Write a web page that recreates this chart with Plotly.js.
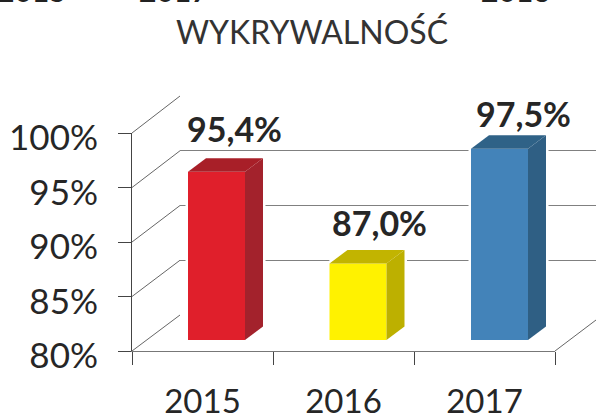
<!DOCTYPE html>
<html>
<head>
<meta charset="utf-8">
<script src="https://cdn.plot.ly/plotly-3.0.1.min.js"></script>
<style>html,body{margin:0;padding:0;background:#fff;overflow:hidden}</style>
</head>
<body>
<div id="chart" style="width:596px;height:416px"></div>
<script>
var categories = ['2015', '2016', '2017'];
var values = [95.4, 87.0, 97.5];
var frontColors = ['#e01f2b', '#fff200', '#4383b9'];
var sideColors = ['#a3222c', '#bdb000', '#2f5f84'];
var topColors = ['#a81f28', '#c2b400', '#2f6287'];
var yTicks = [80, 85, 90, 95, 100];
var yTickText = ['80%', '85%', '90%', '95%', '100%'];
var clippedHeader = ['2015', '2017', '2016'];
var clippedHeaderX = [32, 174, 516];
var labelDx = [0.13, 0.15, 0.17];
var labelShift = [43, 41, 35];

var W = 596, H = 416, FONT = 'Lato, Carlito, sans-serif';
function px(x) { return x / W; }
function py(y) { return 1 - y / H; }
function dom(a, b) { return [Math.max(0, px(a)), Math.min(1, px(b))]; }
function vdom(bottom, top) { return [py(bottom), py(top)]; }

var barW = 57 / 141.5, dx = 18 / 141.5, dy = 13.5 / 10.925;
var traces = [];

// wall subplot and front-axis subplot carriers
traces.push({ type: 'scatter', xaxis: 'x', yaxis: 'y', x: [0], y: [80], mode: 'markers', marker: { opacity: 0 }, showlegend: false, hoverinfo: 'skip' });
traces.push({ type: 'scatter', xaxis: 'x2', yaxis: 'y2', x: [0], y: [80], mode: 'markers', marker: { opacity: 0 }, showlegend: false, hoverinfo: 'skip' });

// white halo around each bar, in its own lower subplot
categories.forEach(function (c, i) {
  var l = i - barW / 2, r = i + barW / 2, v = values[i];
  traces.push({ type: 'scatter', xaxis: 'x3', yaxis: 'y3', mode: 'lines', fill: 'toself', fillcolor: '#fff',
    line: { color: '#fff', width: 5 }, hoverinfo: 'skip', showlegend: false,
    x: [l, l, l + dx, r + dx, r + dx, r, l], y: [80, v, v + dy, v + dy, 80 + dy, 80, 80] });
});
// front faces
traces.push({ type: 'bar', xaxis: 'x4', yaxis: 'y4', x: [0, 1, 2], y: values, width: barW,
  marker: { color: frontColors, line: { width: 0 } }, showlegend: false, hoverinfo: 'skip' });
// side and top faces
categories.forEach(function (c, i) {
  var l = i - barW / 2, r = i + barW / 2, v = values[i];
  traces.push({ type: 'scatter', xaxis: 'x4', yaxis: 'y4', mode: 'lines', fill: 'toself', fillcolor: sideColors[i],
    line: { width: 0 }, hoverinfo: 'skip', showlegend: false,
    x: [r, r + dx, r + dx, r, r], y: [80, 80 + dy, v + dy, v, 80] });
  traces.push({ type: 'scatter', xaxis: 'x4', yaxis: 'y4', mode: 'lines', fill: 'toself', fillcolor: topColors[i],
    line: { width: 0 }, hoverinfo: 'skip', showlegend: false,
    x: [l, l + dx, r + dx, r, l], y: [v, v + dy, v + dy, v, v] });
});

var frontY = function (v) { return 351 - (v - 80) * 10.9; };
var backY = function (v) { return 315 - (v - 80) * 10.95; };
var shapes = yTicks.map(function (v) {
  return { type: 'line', xref: 'paper', yref: 'paper', layer: 'below',
    x0: px(132), y0: py(frontY(v)), x1: px(180), y1: py(backY(v)),
    line: { color: '#666', width: 1 } };
});
shapes.push({ type: 'line', xref: 'paper', yref: 'paper', layer: 'below',
  x0: px(555), y0: py(351), x1: px(596), y1: py(320), line: { color: '#666', width: 1 } });

var annotations = values.map(function (v, i) {
  return { xref: 'x4', yref: 'y4', x: i + labelDx[i], y: v, yshift: labelShift[i], yanchor: 'middle', xanchor: 'center',
    showarrow: false, text: '<b>' + v.toFixed(1).replace('.', ',') + '%</b>',
    font: { family: FONT, size: 34, color: '#262626' } };
});
clippedHeader.forEach(function (t, i) {
  annotations.push({ xref: 'paper', yref: 'paper', x: px(clippedHeaderX[i]), y: py(10), yanchor: 'bottom', xanchor: 'center',
    showarrow: false, text: '<b>' + t + '</b>', font: { family: FONT, size: 30, color: '#222' } });
});

var layout = {
  width: W, height: H, margin: { l: 0, r: 0, t: 0, b: 0 }, paper_bgcolor: '#fff', plot_bgcolor: 'rgba(0,0,0,0)',
  showlegend: false, shapes: shapes, annotations: annotations,
  title: { text: 'WYKRYWALNOŚĆ', xref: 'paper', yref: 'paper', x: px(312), y: py(33), xanchor: 'center', yanchor: 'middle',
    font: { family: FONT, size: 32, color: '#333' } },
  xaxis: { domain: dom(180, 596), range: [0, 1], anchor: 'y', visible: false },
  yaxis: { domain: vdom(315, 96), range: [80, 100], anchor: 'x', tickmode: 'array', tickvals: yTicks,
    showgrid: true, gridcolor: '#808080', gridwidth: 1, zeroline: false, showticklabels: false, ticks: '', showline: false },
  xaxis2: { domain: dom(132, 555), range: [-0.5, 2.5], anchor: 'y2', tickmode: 'array', tickvals: [0, 1, 2], ticktext: categories,
    ticks: '', ticklabelstandoff: 21, showline: true, linecolor: '#777', linewidth: 1, showgrid: false, zeroline: false,
    tickfont: { family: FONT, size: 33, color: '#262626' },
    minor: { tickmode: 'array', tickvals: [-0.5, 0.5, 1.5, 2.5], ticks: 'outside', ticklen: 13, tickcolor: '#444', tickwidth: 1, showgrid: false } },
  yaxis2: { domain: vdom(351, 133), range: [80, 100], anchor: 'x2', tickmode: 'array', tickvals: yTicks, ticktext: yTickText,
    ticks: 'outside', ticklen: 13, tickcolor: '#444', tickwidth: 1, showline: true, linecolor: '#444', linewidth: 1,
    showgrid: false, zeroline: false, ticklabelstandoff: 13, ticklabelshift: 5, tickfont: { family: FONT, size: 35, color: '#262626' } },
  xaxis3: { domain: dom(145.75, 570.25), range: [-0.5, 2.5], anchor: 'y3', visible: false },
  yaxis3: { domain: vdom(340, 121.5), range: [80, 100], anchor: 'x3', visible: false },
  xaxis4: { domain: dom(145.75, 570.25), range: [-0.5, 2.5], anchor: 'y4', visible: false },
  yaxis4: { domain: vdom(340, 121.5), range: [80, 100], anchor: 'x4', visible: false }
};
Plotly.newPlot('chart', traces, layout, { displayModeBar: false, staticPlot: true });
</script>
</body>
</html>
